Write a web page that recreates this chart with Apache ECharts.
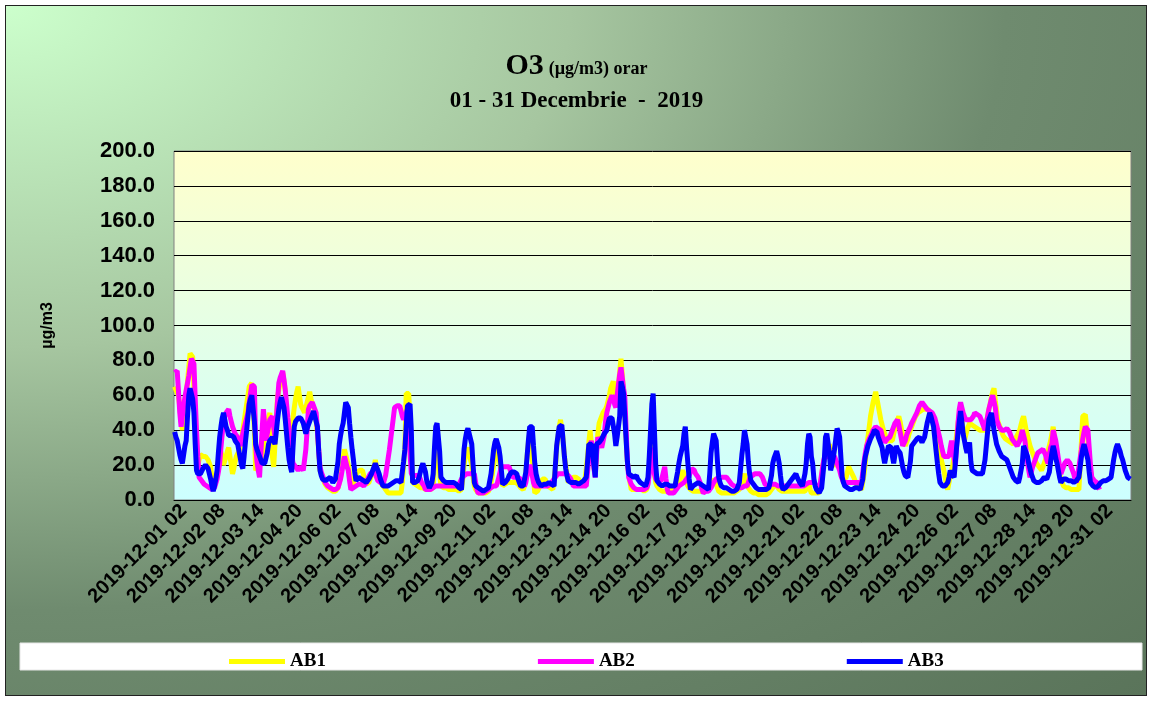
<!DOCTYPE html>
<html>
<head>
<meta charset="utf-8">
<title>O3 orar - Decembrie 2019</title>
<script src="https://cdn.jsdelivr.net/npm/echarts@6/dist/echarts.min.js"></script>
<style>
  html, body { margin: 0; padding: 0; background: #fff; }
  #bg {
    position: absolute; left: 5px; top: 5px; width: 1140px; height: 689px;
    border: 1px solid #222;
    background: radial-gradient(ellipse farthest-corner at 0 0, #ccffcc 0%, #a6c6a0 35%, #6f8b6f 62%, #5a745a 100%);
  }
  #chart { position: absolute; left: 0; top: 0; width: 1153px; height: 702px; }
</style>
</head>
<body>
<div id="bg"></div>
<div id="chart"></div>
<script>
// hourly values, one line per day (01..31 Dec 2019, hours 01..24)
const ab1 = [
  65,63,62,60,53,46,40,47,53,60,68,76,84,84,82,64,45,32,20,23,26,26,25,25,
  25,24,23,23,19,12,13,14,15,15,22,30,30,25,20,20,25,28,30,25,20,15,18,22,
  25,25,28,31,35,40,45,50,55,60,65,66,67,67,40,17,18,19,20,21,26,31,36,40,
  43,47,50,35,25,19,32,46,59,63,67,70,73,68,63,51,40,29,35,41,47,53,58,62,
  65,60,55,53,52,50,53,56,59,62,58,55,53,51,50,39,28,17,15,13,11,9,8,7,
  6,6,5,5,5,5,6,7,8,13,18,24,29,26,23,20,15,11,8,10,12,14,16,17,
  17,17,17,14,11,9,8,10,12,14,15,19,23,19,15,12,10,9,8,8,6,5,4,4,
  4,4,4,4,4,4,4,4,4,10,20,30,61,61,61,45,30,10,9,9,8,8,8,7,
  7,7,6,6,6,6,6,6,6,7,20,32,35,30,15,8,8,7,7,7,7,6,6,6,
  6,6,6,6,5,5,5,6,12,20,25,28,30,27,23,20,13,8,6,5,4,4,4,4,
  4,4,4,5,5,6,10,15,20,25,28,30,25,20,14,8,8,9,9,10,10,10,10,10,
  10,10,10,9,8,7,6,6,8,15,25,33,38,40,25,12,4,5,5,6,8,10,12,13,
  12,10,8,7,7,6,6,6,18,30,36,42,46,46,35,25,20,15,10,11,12,13,13,13,
  13,13,12,11,10,9,8,12,18,25,33,40,32,24,18,15,28,38,44,46,48,50,51,52,
  54,55,60,64,66,68,62,58,55,65,74,81,72,61,50,35,22,15,10,6,6,6,6,6,
  6,6,6,6,5,5,5,6,10,20,30,35,25,15,10,8,7,6,5,5,5,5,5,5,
  5,5,5,6,7,8,9,10,10,12,15,17,15,12,10,8,7,6,5,5,5,5,5,5,
  5,5,5,5,5,5,6,7,8,9,10,12,12,10,7,5,4,4,4,4,4,4,4,4,
  4,4,4,4,4,5,5,6,6,10,13,15,12,9,7,6,5,5,4,4,4,4,3,3,
  3,3,3,3,3,3,4,5,6,7,8,8,8,7,6,6,5,5,5,5,5,5,5,5,
  5,5,5,5,5,5,5,5,5,5,5,6,8,10,6,4,4,4,4,4,4,4,8,14,
  20,23,25,28,30,32,28,24,20,20,20,20,20,20,16,13,11,10,13,16,19,18,16,15,
  13,11,9,8,7,7,6,6,15,22,30,36,42,48,52,56,59,62,58,54,50,46,43,40,
  38,36,34,34,34,34,34,38,41,44,46,48,45,41,37,34,31,33,35,38,40,42,44,46,
  48,49,50,50,51,51,52,52,52,52,52,52,49,46,43,41,38,34,30,27,23,20,17,13,
  9,6,10,14,17,20,26,32,38,44,49,53,47,40,34,37,40,42,44,44,43,42,42,41,
  41,41,40,40,40,40,40,44,48,52,55,59,62,64,57,51,45,43,41,39,37,36,35,34,
  34,33,33,32,32,34,35,37,38,40,43,46,48,44,40,37,34,31,29,27,25,23,21,20,
  19,18,17,19,21,23,25,28,31,34,38,42,36,30,25,20,15,12,10,8,8,7,7,7,
  6,6,6,6,6,6,6,6,20,34,48,49,49,49,35,21,17,13,11,10,9,8,8,8,
  null,null,null,null,null,null,null,null,null,null,null,null,null,null,null,null,null,null,null,null,null,null,null,null
];

const ab2 = [
  73,74,74,62,50,42,48,54,59,63,67,71,76,81,80,78,58,40,25,13,12,11,10,9,
  8,8,7,7,6,6,7,7,8,12,16,21,30,38,44,48,50,51,52,48,45,42,40,38,
  37,36,33,31,34,38,41,44,47,50,56,61,66,66,65,31,22,17,13,26,40,52,43,34,
  38,42,46,47,48,42,36,46,57,67,70,72,74,69,63,55,47,40,33,27,21,20,19,18,
  17,18,19,18,17,17,29,40,52,54,55,56,54,52,50,40,29,19,16,14,12,10,9,8,
  7,7,6,6,6,6,7,7,8,12,16,21,25,22,19,17,11,6,7,7,8,8,9,9,
  9,9,8,8,8,10,12,13,15,16,16,17,15,13,11,10,10,9,9,9,14,19,24,29,
  35,41,47,53,53,54,54,54,51,48,46,48,50,52,40,27,15,14,14,14,14,14,14,12,
  10,9,8,6,6,6,6,6,7,7,8,8,8,8,8,8,8,8,8,8,8,8,8,8,
  8,8,8,8,8,9,10,12,13,14,15,15,15,15,15,15,15,15,10,6,4,4,4,4,
  4,4,5,5,6,6,7,7,8,8,8,10,13,16,19,19,19,19,19,19,19,17,15,13,
  13,13,13,13,13,12,10,9,8,10,14,18,20,18,14,10,8,8,8,8,8,8,8,8,
  8,8,8,9,9,10,11,12,13,14,15,15,15,15,15,15,15,15,14,13,12,10,8,8,
  8,8,8,8,8,8,8,8,8,16,24,30,34,25,18,13,26,36,34,32,30,29,37,45,
  50,53,56,58,60,58,55,53,60,66,72,76,70,64,59,40,22,13,11,9,8,7,6,6,
  6,6,6,6,6,6,6,7,9,15,22,30,25,15,12,11,11,11,11,13,16,19,12,6,
  4,4,4,4,4,4,6,7,8,8,9,10,10,11,12,12,14,16,18,19,17,15,14,13,
  11,9,6,4,4,5,5,5,6,7,8,10,11,12,13,13,13,13,13,13,13,13,12,11,
  10,9,8,8,7,7,7,7,7,7,8,8,8,8,10,12,13,14,15,15,15,15,15,15,
  15,13,11,9,8,8,8,9,9,9,9,9,8,8,8,8,8,8,8,8,8,8,8,8,
  8,8,8,8,8,8,8,8,8,8,8,9,9,10,10,10,10,10,9,8,7,6,10,15,
  20,24,25,25,25,25,25,25,25,25,23,21,20,17,14,12,10,10,10,10,10,10,10,10,
  10,10,10,10,10,10,10,16,22,27,31,33,35,36,38,40,41,42,42,41,40,40,37,35,
  33,34,35,36,36,38,40,42,44,45,46,43,39,35,31,31,34,37,39,40,42,44,45,47,
  48,50,52,54,55,56,55,54,53,52,52,51,51,50,50,47,44,41,38,35,31,28,25,25,
  25,25,25,30,34,29,24,20,32,44,52,56,53,50,48,46,46,46,46,46,47,48,50,49,
  49,48,48,46,44,42,40,44,48,52,55,58,60,61,53,46,44,42,41,40,40,40,41,41,
  41,39,37,35,34,33,32,31,31,34,37,40,37,34,28,22,17,13,16,19,21,23,25,27,
  28,28,29,29,29,26,23,21,26,30,32,40,40,34,29,24,19,15,17,19,21,22,23,23,
  21,19,17,15,12,10,14,19,24,29,35,39,42,41,40,30,20,13,12,11,11,10,8,6,
  null,null,null,null,null,null,null,null,null,null,null,null,null,null,null,null,null,null,null,null,null,null,null,null
];

const ab3 = [
  39,36,34,30,26,23,21,26,31,34,48,60,64,65,58,50,32,17,15,14,15,16,18,19,
  20,19,18,17,12,8,5,8,12,17,27,36,42,47,50,46,42,40,37,36,37,38,36,34,
  33,32,28,24,20,18,25,33,40,48,55,58,60,60,45,32,29,27,25,23,21,20,21,22,
  27,32,34,35,36,34,32,39,46,52,56,59,60,53,46,38,30,23,19,16,30,42,45,46,
  47,47,47,47,44,41,38,41,43,45,47,49,51,48,45,42,28,17,14,12,11,11,12,12,
  13,13,13,10,11,12,13,22,32,37,41,44,50,56,55,53,44,36,29,23,16,11,12,13,
  13,12,12,11,11,10,10,12,13,15,16,19,21,19,17,15,12,10,8,8,8,8,8,9,
  9,10,10,10,11,11,11,10,10,16,22,29,42,54,55,55,40,10,10,10,10,11,13,16,
  19,21,22,16,11,9,7,6,10,15,30,42,44,44,28,13,12,11,10,10,10,10,10,10,
  10,10,10,9,8,7,7,6,17,29,35,39,41,38,35,32,20,10,8,7,7,6,6,5,
  5,5,6,7,7,8,15,22,29,33,35,36,30,25,17,9,10,10,11,12,14,15,16,16,
  16,15,15,12,10,8,8,8,8,16,25,34,42,42,42,31,21,15,12,10,9,8,8,9,
  9,9,10,10,10,9,8,8,20,31,37,42,43,43,34,25,18,14,11,10,10,10,10,11,
  10,10,9,9,10,10,11,12,13,22,32,32,32,32,20,13,32,33,33,34,35,36,38,39,
  40,44,47,47,47,47,38,31,36,42,48,68,65,61,48,34,22,15,14,14,13,13,14,14,
  12,11,10,9,9,8,8,10,13,25,40,55,61,40,20,11,10,9,8,8,8,9,9,9,
  8,8,8,8,8,8,12,16,21,25,28,31,38,42,30,21,12,6,7,8,8,9,9,10,
  10,9,9,8,8,7,7,6,15,27,33,38,36,34,22,13,10,8,8,7,7,7,6,6,
  5,5,5,5,5,6,8,10,18,26,32,40,36,32,22,15,11,10,9,8,7,7,6,6,
  6,6,6,6,6,7,7,7,14,21,24,26,28,25,21,14,8,6,6,7,8,9,10,11,
  12,13,14,15,13,12,10,9,8,8,15,21,32,38,36,25,21,12,8,6,5,4,5,7,
  8,22,36,38,38,27,17,20,24,29,35,41,39,36,24,13,10,8,7,7,7,6,6,6,
  7,7,8,7,6,6,5,12,20,25,28,31,33,35,36,38,40,41,39,36,34,32,30,25,
  21,25,28,31,31,30,25,21,26,31,29,28,27,23,19,16,14,13,13,14,22,31,32,33,
  34,35,35,36,35,33,32,36,40,44,47,50,48,45,42,35,28,21,15,10,9,8,7,8,
  9,10,13,17,15,14,13,22,31,38,45,51,45,38,34,30,27,28,33,22,17,16,16,15,
  15,15,15,15,15,19,23,31,39,46,48,50,45,40,36,32,30,28,27,25,25,24,24,23,
  21,19,17,15,13,12,11,11,10,13,17,21,31,29,27,25,21,18,15,13,11,10,10,10,
  10,10,11,12,13,12,12,11,16,22,27,31,28,24,21,17,13,10,11,12,13,12,12,11,
  11,11,10,10,10,11,12,13,19,25,29,32,29,26,23,16,10,9,8,8,7,7,8,9,
  10,10,11,11,11,11,12,12,13,18,23,27,30,32,33,28,25,23,20,17,15,13,12,12
];

const seriesNames = ['AB1', 'AB2', 'AB3'];
const seriesColors = ['#ffff00', '#ff00ff', '#0000ff'];
const yTicks = [0, 20, 40, 60, 80, 100, 120, 140, 160, 180, 200];

// category labels: "2019-12-DD HH", hours 01..24
const days = 31;
const hours = 24;
const categories = [];
for (let d = 1; d <= days; d++) {
  for (let h = 1; h <= hours; h++) {
    categories.push('2019-12-' + String(d).padStart(2, '0') + ' ' + String(h).padStart(2, '0'));
  }
}

const chart = echarts.init(document.getElementById('chart'));

const option = {
  animation: false,
  backgroundColor: 'transparent',
  title: [
    {
      text: '{a|O3} {b|(µg/m3) orar}',
      left: 'center',
      top: 46,
      textStyle: {
        rich: {
          a: { fontFamily: 'Liberation Serif', fontWeight: 'bold', fontSize: 30, color: '#000' },
          b: { fontFamily: 'Liberation Serif', fontWeight: 'bold', fontSize: 18, color: '#000', padding: [6, 0, 0, 0] }
        }
      }
    },
    {
      text: '01 - 31 Decembrie  -  2019',
      left: 'center',
      top: 85,
      textStyle: { fontFamily: 'Liberation Serif', fontWeight: 'bold', fontSize: 23, color: '#000' }
    }
  ],
  graphic: [
    {
      type: 'rect',
      z: -5,
      shape: { x: 20, y: 643, width: 1122, height: 27 },
      style: { fill: '#ffffff', stroke: '#e6e6e6', lineWidth: 1 }
    }
  ],
  legend: {
    data: seriesNames,
    icon: 'rect',
    left: 224,
    top: 647,
    itemWidth: 56,
    itemHeight: 5,
    itemGap: 212,
    textStyle: { fontFamily: 'Liberation Serif', fontWeight: 'bold', fontSize: 19, color: '#000' }
  },
  grid: {
    left: 174,
    top: 151,
    right: 22,
    bottom: 202,
    show: true,
    backgroundColor: new echarts.graphic.LinearGradient(0, 0, 0, 1, [
      { offset: 0, color: '#ffffcc' },
      { offset: 1, color: '#ccffff' }
    ]),
    borderColor: '#808080',
    borderWidth: 1
  },
  xAxis: {
    type: 'category',
    data: categories,
    boundaryGap: true,
    axisLine: { lineStyle: { color: '#000', width: 1 } },
    axisTick: { show: false },
    axisLabel: {
      interval: (idx) => (idx - 1) % 30 === 0,
      showMinLabel: true,
      showMaxLabel: true,
      rotate: 45,
      margin: 0,
      verticalAlign: 'top',
      lineHeight: 22,
      fontFamily: 'Arial, Liberation Sans, sans-serif',
      fontWeight: 'bold',
      fontSize: 20,
      color: '#000'
    },
    splitLine: { show: false }
  },
  yAxis: {
    type: 'value',
    min: yTicks[0],
    max: yTicks[yTicks.length - 1],
    interval: yTicks[1] - yTicks[0],
    name: 'µg/m3',
    nameLocation: 'middle',
    nameRotate: 90,
    nameGap: 118,
    nameTextStyle: { fontFamily: 'Arial, Liberation Sans, sans-serif', fontWeight: 'bold', fontSize: 16, color: '#000' },
    axisLine: { show: false },
    axisTick: { show: false },
    axisLabel: {
      formatter: (v) => v.toFixed(1),
      margin: 19,
      fontFamily: 'Arial, Liberation Sans, sans-serif',
      fontWeight: 'bold',
      fontSize: 22,
      color: '#000'
    },
    splitLine: { lineStyle: { color: '#000', width: 1 } }
  },
  series: [ab1, ab2, ab3].map((values, k) => ({
    name: seriesNames[k],
    type: 'line',
    data: values,
    symbol: 'none',
    connectNulls: false,
    lineStyle: { color: seriesColors[k], width: 5 },
    itemStyle: { color: seriesColors[k] }
  }))
};

chart.setOption(option);
</script>
</body>
</html>
